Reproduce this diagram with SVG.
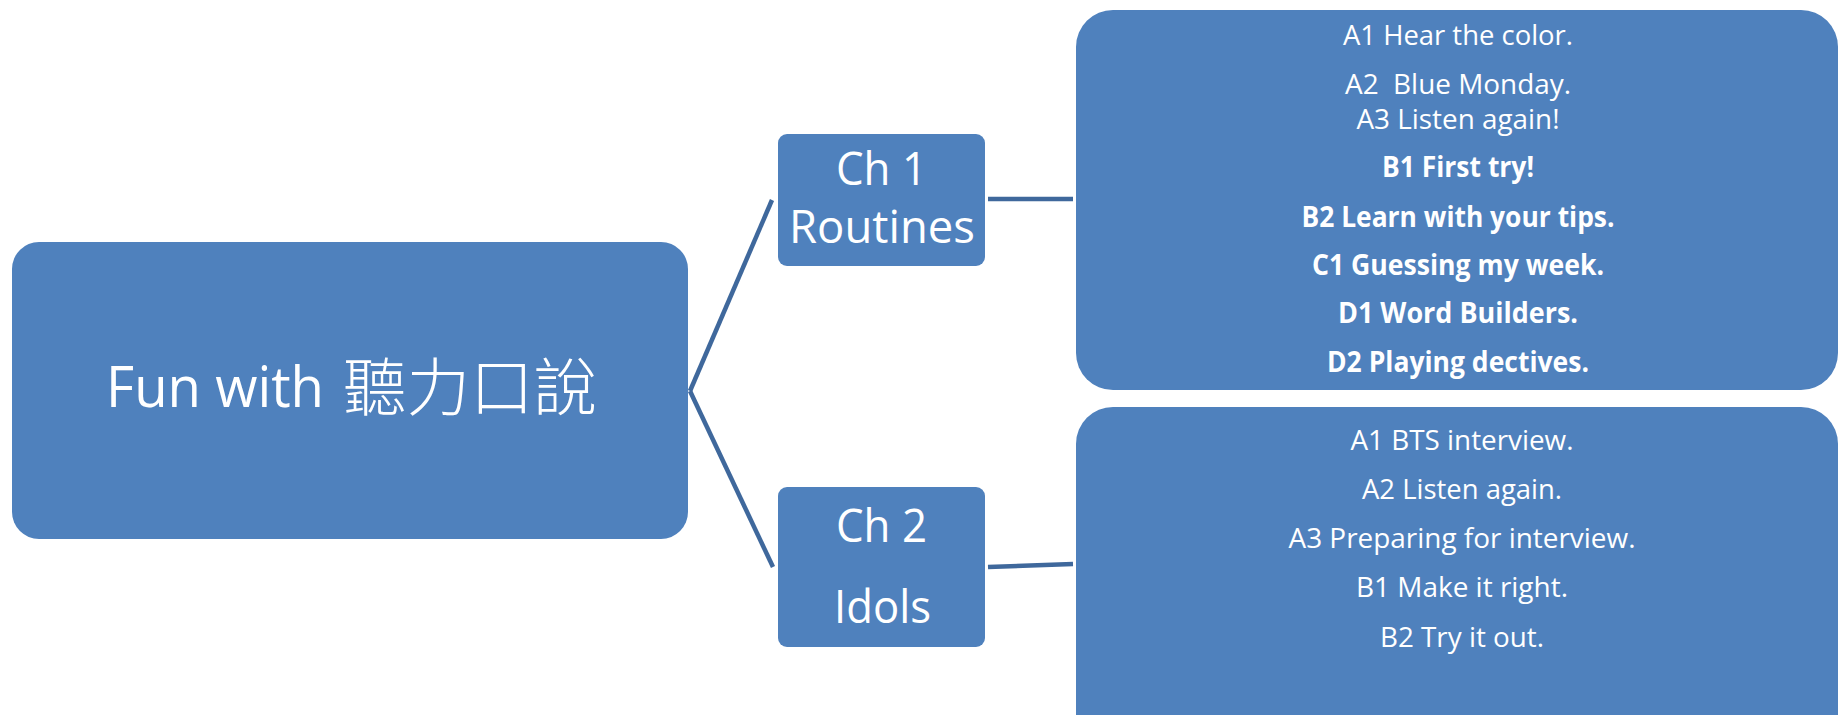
<svg xmlns="http://www.w3.org/2000/svg" width="1838" height="715" viewBox="0 0 1838 715">
  <style>
    .box { fill: #4F81BD; }
    .conn { stroke: #3F689C; stroke-width: 4.5; fill: none; stroke-linecap: butt; }
    .t { fill: #FFFFFF; font-family: "Open Sans", "Noto Sans", "Liberation Sans", sans-serif; text-anchor: middle; }
    .ch { font-size: 45px; }
    .item { font-size: 28px; }
    .b { font-weight: bold; }
    .root { fill: #FFFFFF; font-family: "Open Sans", "Noto Sans", sans-serif; font-size: 57px; }
    .cjk { font-family: "Noto Sans CJK TC", "Noto Sans CJK SC", sans-serif; font-size: 63px; font-weight: 300; }
  </style>
  <rect width="1838" height="715" fill="#FFFFFF"/>
  <g id="connectors">
    <path class="conn" d="M690,391 L772,200"/>
    <path class="conn" d="M690,391 L773,567"/>
    <path class="conn" d="M988,199 L1073,199"/>
    <path class="conn" d="M988,567 L1073,564"/>
  </g>
  <g id="root">
    <rect class="box" x="12" y="242" width="676" height="297" rx="27" ry="27"/>
    <text class="root" x="106" y="407"><tspan textLength="218" lengthAdjust="spacingAndGlyphs">Fun with</tspan><tspan class="cjk" x="343" y="410" textLength="254" lengthAdjust="spacingAndGlyphs">聽力口說</tspan></text>
  </g>
  <g id="ch1">
    <rect class="box" x="778" y="134" width="207" height="132" rx="9" ry="9"/>
    <text class="t ch" x="881.5" y="185" textLength="91" lengthAdjust="spacingAndGlyphs">Ch 1</text>
    <text class="t ch" x="882" y="243" textLength="186" lengthAdjust="spacingAndGlyphs">Routines</text>
  </g>
  <g id="ch2">
    <rect class="box" x="778" y="487" width="207" height="160" rx="9" ry="9"/>
    <text class="t ch" x="881.5" y="542" textLength="91" lengthAdjust="spacingAndGlyphs">Ch 2</text>
    <text class="t ch" x="882.5" y="623" textLength="97" lengthAdjust="spacingAndGlyphs">Idols</text>
  </g>
  <g id="ch1-lessons">
    <rect class="box" x="1076" y="10" width="762" height="380" rx="37" ry="37"/>
    <text class="t item" x="1458" y="45" textLength="230" lengthAdjust="spacingAndGlyphs">A1 Hear the color.</text>
    <text class="t item" x="1458" y="94" textLength="226" lengthAdjust="spacingAndGlyphs" xml:space="preserve">A2  Blue Monday.</text>
    <text class="t item" x="1458" y="129" textLength="203" lengthAdjust="spacingAndGlyphs">A3 Listen again!</text>
    <text class="t item b" x="1458" y="177" textLength="152" lengthAdjust="spacingAndGlyphs">B1 First try!</text>
    <text class="t item b" x="1458" y="227" textLength="313" lengthAdjust="spacingAndGlyphs">B2 Learn with your tips.</text>
    <text class="t item b" x="1458" y="275" textLength="292" lengthAdjust="spacingAndGlyphs">C1 Guessing my week.</text>
    <text class="t item b" x="1458" y="323" textLength="240" lengthAdjust="spacingAndGlyphs">D1 Word Builders.</text>
    <text class="t item b" x="1458" y="372" textLength="262" lengthAdjust="spacingAndGlyphs">D2 Playing dectives.</text>
  </g>
  <g id="ch2-lessons">
    <rect class="box" x="1076" y="407" width="762" height="360" rx="37" ry="37"/>
    <text class="t item" x="1462" y="450" textLength="223" lengthAdjust="spacingAndGlyphs">A1 BTS interview.</text>
    <text class="t item" x="1462" y="499" textLength="200" lengthAdjust="spacingAndGlyphs">A2 Listen again.</text>
    <text class="t item" x="1462" y="548" textLength="347" lengthAdjust="spacingAndGlyphs">A3 Preparing for interview.</text>
    <text class="t item" x="1462" y="597" textLength="212" lengthAdjust="spacingAndGlyphs">B1 Make it right.</text>
    <text class="t item" x="1462" y="647" textLength="164" lengthAdjust="spacingAndGlyphs">B2 Try it out.</text>
  </g>
</svg>
